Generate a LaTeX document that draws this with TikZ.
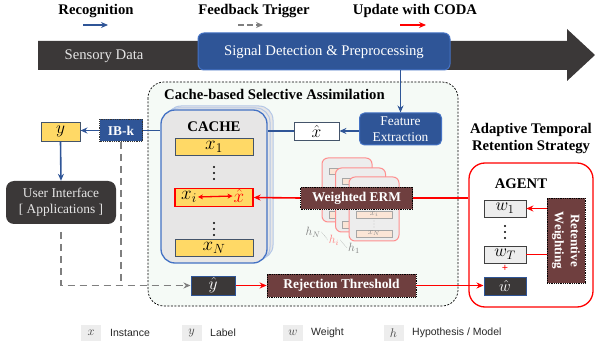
\RequirePackage{fix-cm}
\documentclass[tikz,border=0pt]{standalone}
\usepackage{fontspec}
\setmainfont{Liberation Serif}
\newfontfamily\legsans{Liberation Sans}
\usetikzlibrary{arrows.meta}
\definecolor{darkg}{HTML}{3B3838}
\definecolor{bluef}{HTML}{2F5597}
\definecolor{bluel}{HTML}{4472C4}
\definecolor{yel}{HTML}{FFD966}
\definecolor{ercol}{HTML}{6F3F3F}
\definecolor{cachef}{HTML}{E7E6E6}
\definecolor{regionf}{HTML}{F5FAF6}
\definecolor{lgray}{HTML}{EDEDED}
\definecolor{peach}{HTML}{FBE5D6}
\definecolor{pinkr}{HTML}{FF8F8F}
\definecolor{dgray}{HTML}{7F7F7F}
\definecolor{itemb}{HTML}{44546A}
\definecolor{shadowb}{HTML}{B4C7E7}
\newcommand{\szA}{\fontsize{14.7}{17}\selectfont}
\newcommand{\szB}{\fontsize{13.4}{16}\selectfont}
\newcommand{\szL}{\fontsize{10.5}{12}\selectfont}
\newcommand{\szM}{\fontsize{19}{20}\selectfont}
\newcommand{\szW}{\fontsize{17.5}{19}\selectfont}
\tikzset{
  bluearr/.style={draw=bluef, line width=1.6pt, -{Stealth[length=7pt,width=6pt]}},
  blueln/.style={draw=bluef, line width=1.6pt},
  redarr/.style={draw=red, line width=1.6pt, -{Stealth[length=7pt,width=6pt]}},
  redln/.style={draw=red, line width=1.6pt},
  dasharr/.style={draw=dgray, line width=1.8pt, dash pattern=on 7pt off 5pt},
  brownbox/.style={fill=ercol, draw=black, densely dotted, line width=0.8pt, text=white, font=\szB\bfseries, inner sep=0pt},
  itembox/.style={fill=yel, draw=itemb, line width=0.9pt, minimum width=78pt, minimum height=17pt, inner sep=0pt, font=\szM},
  darkbox/.style={fill=darkg, draw=bluef, line width=1pt, text=white, inner sep=0pt, font=\szW},
  wbox/.style={fill=lgray, draw=black!75, line width=0.8pt, minimum width=42pt, minimum height=17pt, inner sep=0pt, font=\szW},
  cardbox/.style={fill=black!7, draw=pinkr, line width=1pt, rounded corners=6pt},
  barbox/.style={fill=peach, draw=black!35, line width=0.5pt},
  legbox/.style={fill=lgray, minimum width=20pt, minimum height=16pt, inner sep=0pt, font=\fontsize{12.5}{13}\selectfont, text=black!75},
  legtext/.style={font=\legsans\szL, text=black!85, anchor=west, inner sep=0pt},
}
\begin{document}
\begin{tikzpicture}[x=1pt,y=-1pt]
\useasboundingbox (0,0) rectangle (595,350);

% top legend
\node[font=\szA\bfseries] (lrec) at (96,11) {Recognition};
\coordinate (lr1) at (83,25); \coordinate (lr2) at (108,25);
\draw[bluearr] (lr1) -- (lr2);
\node[font=\szA\bfseries] (lfb) at (254,11) {Feedback Trigger};
\coordinate (lf1) at (238,25); \coordinate (lf2) at (263,25);
\draw[draw=dgray, line width=1.6pt, dash pattern=on 6pt off 3pt, -{Stealth[length=7pt,width=6pt]}] (lf1) -- (lf2);
\node[font=\szA\bfseries] (lup) at (415,11) {Update with CODA};
\coordinate (lu1) at (400,25); \coordinate (lu2) at (426,25);
\draw[redarr] (lu1) -- (lu2);

% big process arrow
\fill[darkg] (38,41) -- (567,41) -- (567,29) -- (595,55) -- (567,81) -- (567,70) -- (38,70) -- cycle;
\node[text=white!90!black, font=\szA] (sens) at (104,56) {Sensory Data};
\node[fill=bluef, draw=bluel, line width=1pt, rounded corners=6pt, minimum width=252pt, minimum height=37pt, inner sep=0pt, text=white, font=\szA] (sig) at (324,51.5) {Signal Detection \& Preprocessing};

% region
\draw[draw=black, fill=regionf, dash pattern=on 2pt off 1.5pt, line width=0.7pt, rounded corners=16pt] (148,82) rectangle (458,306);
\node[font=\szA\bfseries, anchor=west, inner sep=0pt] (ctitle) at (164,94) {Cache-based Selective Assimilation};

% feature extraction
\node[fill=bluef, draw=bluel, line width=1pt, rounded corners=5pt, minimum width=82pt, minimum height=32pt, inner sep=0pt, text=white, font=\szB, align=center] (fe) at (400.5,129) {Feature\\Extraction};
\draw[bluearr] (sig.south -| fe.north) -- (fe.north);
\node[fill=white, draw=itemb, line width=0.8pt, minimum width=45pt, minimum height=18pt, inner sep=0pt, font=\szW] (xh) at (316.5,131) {$\hat{x}$};
\draw[bluearr] (fe.west |- xh.east) -- (xh.east);

% cache
\draw[draw=shadowb, fill=cachef, line width=1pt, rounded corners=14pt] (167,106) rectangle (273,259);
\draw[draw=shadowb, fill=cachef, line width=1pt, rounded corners=14pt] (164,108) rectangle (270,261);
\node[fill=cachef, draw=bluel, line width=1.3pt, rounded corners=14pt, minimum width=106pt, minimum height=153pt, inner sep=0pt] (cache) at (214,186.5) {};
\node[font=\szA\bfseries] (cachet) at (214,127) {CACHE};
\draw[blueln] (xh.west) -- (xh.west -| cache.east);
\node[itembox] (x1) at (214,146.5) {$x_1$};
\node[itembox, draw=red, line width=1.3pt, minimum height=18pt] (xi) at (214,197.5) {};
\node[itembox] (xN) at (214,247.5) {$x_N$};
\node[font=\szM, inner sep=1pt] (xil) at (189,197) {$x_i$};
\node[font=\szM, text=red, inner sep=1pt] (xhr) at (239,196) {$\hat{x}$};
\draw[red, line width=1.3pt, {Stealth[length=5pt,width=5pt]}-{Stealth[length=5pt,width=5pt]}] (xil.east) -- (xhr.west);
\foreach \yy in {167,173,179,223,229,235} \fill (214,\yy) circle (1.2pt);

% hypothesis cards
\foreach \cx/\cy in {322/158, 335.5/168, 349/177} {
  \draw[cardbox] (\cx,\cy) rectangle (\cx+50,\cy+64);
  \draw[barbox] (\cx+7,\cy+10) rectangle (\cx+43,\cy+16);
  \draw[barbox] (\cx+7,\cy+34) rectangle (\cx+43,\cy+41);
  \draw[barbox] (\cx+7,\cy+53) rectangle (\cx+43,\cy+60);
}
\node[text=black!45, font=\fontsize{9}{10}\selectfont, inner sep=0pt] (cxi) at (374,214.5) {$x_i$};
\foreach \dd in {221,224,227} \fill[black!45] (374,\dd) circle (0.4pt);
\node[text=black!45, font=\fontsize{9}{10}\selectfont, inner sep=0pt] (cxn) at (374,233.5) {$x_N$};
\node[text=black!50, font=\fontsize{12}{13}\selectfont, inner sep=1pt] (hN) at (313,232) {$h_N$};
\node[text=pinkr!90!red, font=\fontsize{12}{13}\selectfont, inner sep=1pt] (hi) at (334,240) {$h_i$};
\node[text=black!50, font=\fontsize{12}{13}\selectfont, inner sep=1pt] (h1) at (354,248) {$h_1$};
\draw[black!45, densely dotted] (hN.east) -- (hi.west);
\draw[black!45, densely dotted] (hi.east) -- (h1.west);

\node[brownbox, minimum width=112pt, minimum height=22pt] (erm) at (356.5,198) {Weighted ERM};
\draw[redarr] (erm.west) -- (xi.east);

% agent
\node[font=\szA\bfseries, align=center] (agt) at (531,139) {Adaptive Temporal\\Retention Strategy};
\node[draw=red, line width=1.3pt, fill=white, rounded corners=16pt, minimum width=124pt, minimum height=144pt, inner sep=0pt] (agent) at (531,235) {};
\draw[redln] (erm.east) -- (erm.east -| agent.west);
\node[font=\szA\bfseries] (agl) at (521,184) {AGENT};
\node[wbox] (w1) at (505,208.5) {$w_1$};
\foreach \yy in {226,232,238} \fill (505,\yy) circle (1.2pt);
\node[wbox] (wT) at (505,254.5) {$w_T$};
\node[darkbox, minimum width=42pt, minimum height=18pt, font=\fontsize{16}{17}\selectfont] (wh) at (505,286) {$\hat{w}$};
\node[text=red, font=\fontsize{11}{12}\selectfont\bfseries, inner sep=0pt] (plus) at (505,268) {+};
\node[fill=ercol, draw=black, densely dotted, line width=0.8pt, minimum width=38pt, minimum height=85pt, inner sep=0pt] (rw) at (566,240.5) {};
\node[rotate=-90, text=white, font=\fontsize{13}{16}\selectfont\bfseries, align=center, inner sep=0pt] (rwt) at (rw.center) {Retentive\\Weighting};
\draw[redarr] (rw.west |- w1.east) -- (w1.east);
\draw[redln] (wT.east) -- (wT.east -| rw.west);

% rejection
\node[darkbox, minimum width=44pt, minimum height=19pt] (yh) at (213,285.5) {$\hat{y}$};
\node[brownbox, minimum width=149pt, minimum height=23pt] (rej) at (341.5,285.5) {Rejection Threshold};
\draw[redarr] (yh.east) -- (rej.west);
\draw[redarr] (rej.east) -- (rej.east -| wh.west);

% left side
\node[fill=bluef, draw=black!80, densely dotted, line width=0.8pt, minimum width=43pt, minimum height=22pt, inner sep=0pt, text=white, font=\szB\bfseries] (ib) at (121,130.5) {IB-k};
\node[itembox, minimum width=39pt, minimum height=19pt, font=\szW] (yb) at (60.5,131.5) {$y$};
\draw[blueln] (ib.east) -- (ib.east -| cache.west);
\draw[bluearr] (ib.west) -- (ib.west -| yb.east);
\node[fill=darkg, rounded corners=8pt, minimum width=110pt, minimum height=43pt, inner sep=0pt, text=white!90!black, font=\szB, align=center] (ui) at (61,202.5) {User Interface\\{[} Applications {]}};
\draw[bluearr] (yb.south) -- (ui.north);
\coordinate (uistart) at (61,232);
\coordinate (dc) at (uistart |- yh.west);
\draw[dasharr, -{Stealth[length=7pt,width=6pt]}] (uistart) -- (dc) -- (yh.west);
\draw[dasharr] (ib.south) -- (ib.south |- yh.west);

% bottom legend
\node[legbox] (kx) at (91,333) {$x$};
\node[legtext] (tx) at (110,333) {Instance};
\node[legbox] (ky) at (191.5,333) {$y$};
\node[legtext] (ty) at (210,333) {Label};
\node[legbox] (kw) at (293,333) {$w$};
\node[legtext] (tw) at (311,333) {Weight};
\node[legbox] (kh) at (393.5,333) {$h$};
\node[legtext] (th) at (412,333) {Hypothesis / Model};
\end{tikzpicture}
\end{document}
